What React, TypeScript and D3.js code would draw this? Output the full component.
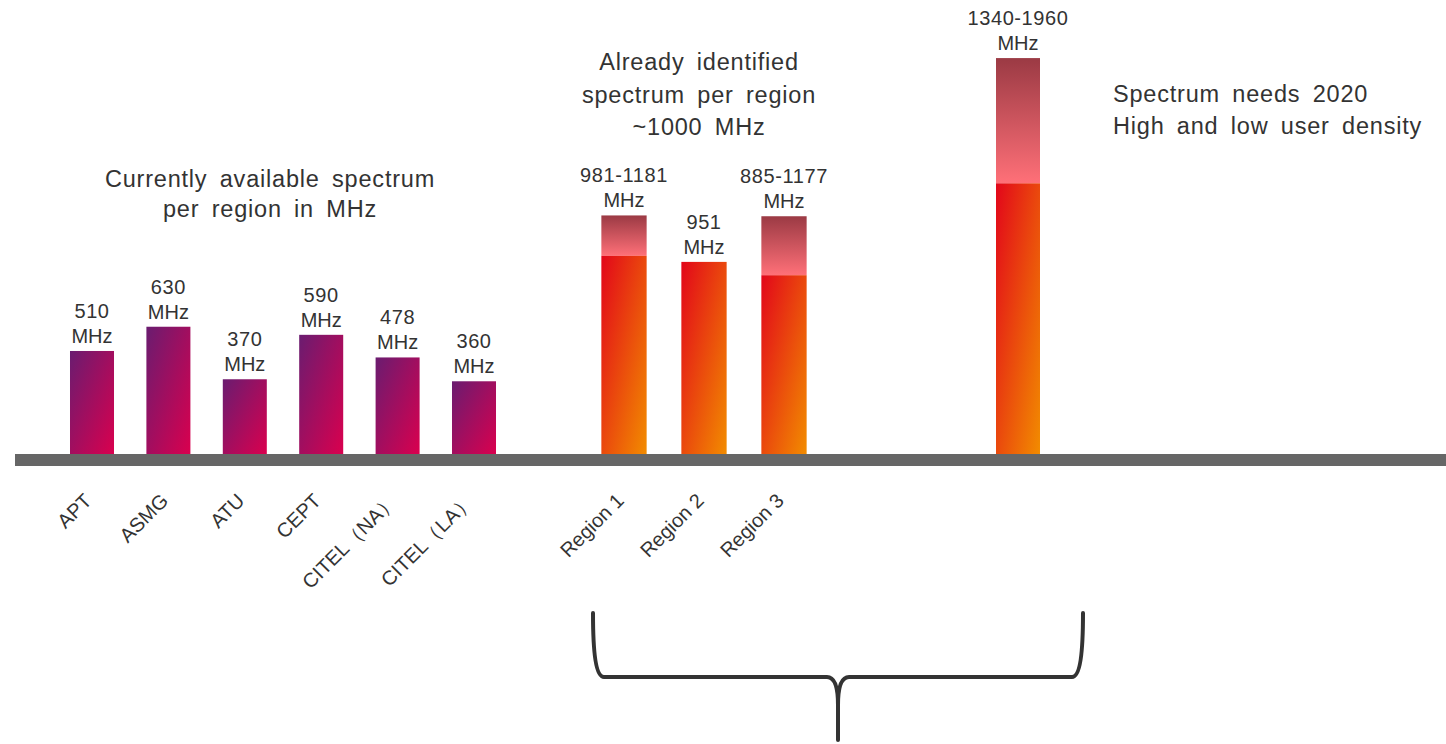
import React from "react";
import * as d3 from "d3";

// Regional bodies: currently available spectrum (MHz)
const bodies = ["APT", "ASMG", "ATU", "CEPT", "CITEL（NA）", "CITEL（LA）"];
const bodyValues = [510, 630, 370, 590, 478, 360];

// ITU regions: already identified spectrum, low–high (MHz)
const regions = ["Region 1", "Region 2", "Region 3"];
const regionLow = [981, 951, 885];
const regionHigh = [1181, 951, 1177];

// 2020 spectrum needs, low–high (MHz)
const needs = ["2020"];
const needLow = [1340];
const needHigh = [1960];

const titleBodies = ["Currently available spectrum", "per region in MHz"];
const titleRegions = ["Already identified", "spectrum per region", "~1000 MHz"];
const titleNeeds = ["Spectrum needs 2020", "High and low user density"];

const W = 1446;
const H = 744;
const FONT = "'Liberation Sans', Arial, sans-serif";
const TEXT = "#333333";

export default function App() {
  // one band scale per group of bars
  const xBodies = d3
    .scaleBand<string>()
    .domain(bodies)
    .range([53.8, 512.2])
    .paddingInner(0.424)
    .paddingOuter(0.212);
  const xRegions = d3
    .scaleBand<string>()
    .domain(regions)
    .range([584, 824])
    .paddingInner(0.434)
    .paddingOuter(0.217);
  const xNeeds = d3.scaleBand<string>().domain(needs).range([996, 1040]).padding(0);

  const y = d3.scaleLinear().domain([0, 2000]).range([454, 50]);

  type Bar = {
    key: string;
    low: number;
    high: number;
    kind: "body" | "range";
    x0: number;
    w: number;
  };
  const bars: Bar[] = [
    ...bodies.map((k, i) => ({
      key: k,
      low: bodyValues[i],
      high: bodyValues[i],
      kind: "body" as const,
      x0: xBodies(k) as number,
      w: xBodies.bandwidth(),
    })),
    ...regions.map((k, i) => ({
      key: k,
      low: regionLow[i],
      high: regionHigh[i],
      kind: "range" as const,
      x0: xRegions(k) as number,
      w: xRegions.bandwidth(),
    })),
    ...needs.map((k, i) => ({
      key: k,
      low: needLow[i],
      high: needHigh[i],
      kind: "range" as const,
      x0: xNeeds(k) as number,
      w: xNeeds.bandwidth(),
    })),
  ];

  const label = (b: Bar) => (b.low === b.high ? `${b.low}` : `${b.low}-${b.high}`);

  // curly bracket under regions and needs
  const bl = 593;
  const br = 1083;
  const bt = 613;
  const by = 677;
  const bm = (bl + br) / 2;
  const tip = 740;
  const bracket = [
    `M${bl},${bt}`,
    `C${bl},${bt + 40} ${bl + 3},${by} ${bl + 11},${by}`,
    `L${bm - 11},${by}`,
    `C${bm - 4},${by} ${bm},${by + 8} ${bm},${by + 28}`,
    `L${bm},${tip}`,
    `M${bm},${by + 28}`,
    `C${bm},${by + 8} ${bm + 4},${by} ${bm + 11},${by}`,
    `L${br - 11},${by}`,
    `C${br - 3},${by} ${br},${bt + 40} ${br},${bt}`,
  ].join(" ");

  const titleStyle = {
    fontFamily: FONT,
    fontSize: 23.5,
    fill: TEXT,
    letterSpacing: 0.8,
    wordSpacing: 5,
  } as React.CSSProperties;

  const catLabels = bars.filter((b) => b.kind === "body" || regions.includes(b.key));

  return (
    <svg
      width={W}
      height={H}
      viewBox={`0 0 ${W} ${H}`}
      style={{ position: "absolute", left: 0, top: 0, display: "block", background: "#fff" }}
    >
      <defs>
        <linearGradient id="gBody" x1="0" y1="0" x2="1" y2="1">
          <stop offset="0" stopColor="#6a1c70" />
          <stop offset="1" stopColor="#da004e" />
        </linearGradient>
        <linearGradient id="gLow" x1="0" y1="0" x2="1" y2="1">
          <stop offset="0" stopColor="#e2061a" />
          <stop offset="1" stopColor="#f28c00" />
        </linearGradient>
        <linearGradient id="gHigh" x1="0" y1="0" x2="0" y2="1">
          <stop offset="0" stopColor="#9b3a44" />
          <stop offset="1" stopColor="#ff7078" />
        </linearGradient>
      </defs>

      {/* bars */}
      {bars.map((b) => (
        <g key={b.key}>
          {b.kind === "range" && b.high > b.low && (
            <rect x={b.x0} y={y(b.high)} width={b.w} height={y(b.low) - y(b.high)} fill="url(#gHigh)" />
          )}
          <rect
            x={b.x0}
            y={y(b.low)}
            width={b.w}
            height={y(0) - y(b.low)}
            fill={b.kind === "body" ? "url(#gBody)" : "url(#gLow)"}
          />
          <text
            x={b.x0 + b.w / 2}
            y={y(b.high) - 33}
            textAnchor="middle"
            style={{ fontFamily: FONT, fontSize: 20, fill: TEXT, letterSpacing: 0.6 }}
          >
            {label(b)}
          </text>
          <text
            x={b.x0 + b.w / 2}
            y={y(b.high) - 8}
            textAnchor="middle"
            style={{ fontFamily: FONT, fontSize: 20, fill: TEXT }}
          >
            MHz
          </text>
        </g>
      ))}

      {/* baseline */}
      <rect x={15} y={y(0)} width={W - 15} height={12} fill="#666666" />

      {/* category labels */}
      {catLabels.map((b) => (
        <text
          key={`lab-${b.key}`}
          transform={`translate(${b.x0 + b.w / 2 + 1},${y(0) + 48}) rotate(-45)`}
          textAnchor="end"
          style={{ fontFamily: FONT, fontSize: 20, fill: TEXT }}
        >
          {b.key}
        </text>
      ))}

      {/* group titles */}
      {titleBodies.map((t, i) => (
        <text key={t} x={270} y={187 + i * 30} textAnchor="middle" style={titleStyle}>
          {t}
        </text>
      ))}
      {titleRegions.map((t, i) => (
        <text key={t} x={699} y={70 + i * 32.5} textAnchor="middle" style={titleStyle}>
          {t}
        </text>
      ))}
      {titleNeeds.map((t, i) => (
        <text key={t} x={1113} y={102 + i * 32} textAnchor="start" style={titleStyle}>
          {t}
        </text>
      ))}

      <path d={bracket} fill="none" stroke="#333333" strokeWidth={4} strokeLinecap="round" strokeLinejoin="round" />
    </svg>
  );
}
